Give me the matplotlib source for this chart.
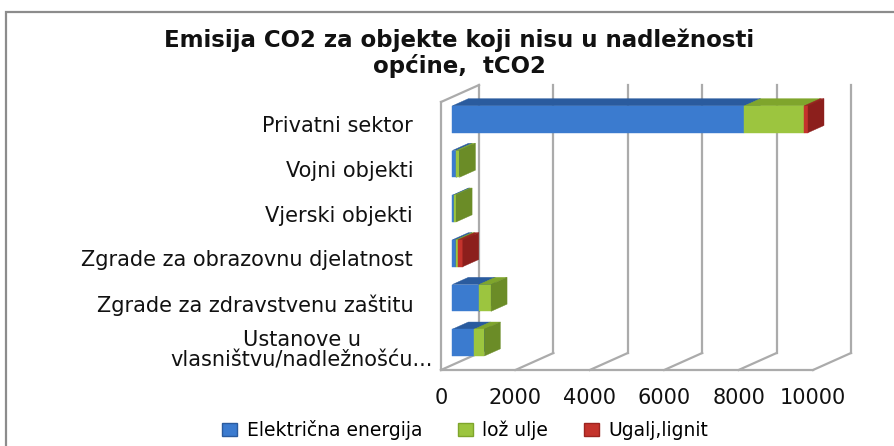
import matplotlib
matplotlib.use("Agg")
import matplotlib.pyplot as plt
from matplotlib.patches import Polygon, Rectangle, Patch
import matplotlib.transforms as mtransforms

# data (tCO2)
categories = ["Privatni sektor", "Vojni objekti", "Vjerski objekti",
              "Zgrade za obrazovnu djelatnost", "Zgrade za zdravstvenu zaštitu",
              "Ustanove u\nvlasništvu/nadležnošću..."]
elektricna = [7850, 100, 40, 90, 720, 590]
loz_ulje = [1610, 90, 60, 70, 320, 270]
ugalj = [100, 0, 0, 120, 0, 0]
series_names = ["Električna energija", "lož ulje", "Ugalj,lignit"]
x_ticks = [0, 2000, 4000, 6000, 8000, 10000]

# face colours: front, top, side
face_colors = [("#3b7bcf", "#2a5b9e", "#2d63a8"),
               ("#9cc53f", "#7fa52c", "#6b8c27"),
               ("#c4332c", "#9c2420", "#8c1f1c")]

W, H = 895, 446
fig = plt.figure(figsize=(W / 100, H / 100), dpi=100)
plt.rcParams['font.family'] = ['DejaVu Sans']

# outer chart frame
fig.patches.append(Rectangle((6 / W, -0.1), 1.1, 1 - 12 / H + 0.1, transform=fig.transFigure,
                             fill=False, edgecolor="#8c8c8c", linewidth=1.6))

ax_w, ax_h = 372, 268
ax = fig.add_axes([441 / W, 76 / H, ax_w / W, ax_h / H])
ax.set_xlim(0, 10000)
ax.set_ylim(5.5, -0.5)
ax.patch.set_visible(False)
for s in ax.spines.values():
    s.set_visible(False)

# depth of the 3D box (pixels -> data units)
ddx = 38 * 10000 / ax_w
ddy = -17 * 6 / ax_h

grid_kw = dict(color="#ababab", linewidth=1.6, clip_on=False, zorder=1)
for v in x_ticks:
    ax.plot([v + ddx, v + ddx], [-0.5 + ddy, 5.5 + ddy], **grid_kw)
    ax.plot([v, v + ddx], [5.5, 5.5 + ddy], **grid_kw)
ax.plot([0, 10000], [5.5, 5.5], **grid_kw)
ax.plot([0, 0], [-0.5, 5.5], **grid_kw)
ax.plot([0, ddx], [-0.5, -0.5 + ddy], **grid_kw)


def box(x0, x1, yc, h, t0, t1, cols):
    top, bot = yc - h / 2, yc + h / 2
    sx = lambda x, t: x + t * ddx
    sy = lambda y, t: y + t * ddy
    faces = [
        ([(sx(x0, t0), sy(top, t0)), (sx(x1, t0), sy(top, t0)),
          (sx(x1, t1), sy(top, t1)), (sx(x0, t1), sy(top, t1))], cols[1]),
        ([(sx(x0, t0), sy(top, t0)), (sx(x1, t0), sy(top, t0)),
          (sx(x1, t0), sy(bot, t0)), (sx(x0, t0), sy(bot, t0))], cols[0]),
        ([(sx(x1, t0), sy(top, t0)), (sx(x1, t1), sy(top, t1)),
          (sx(x1, t1), sy(bot, t1)), (sx(x1, t0), sy(bot, t0))], cols[2]),
    ]
    for pts, c in faces:
        ax.add_patch(Polygon(pts, closed=True, facecolor=c, edgecolor=c,
                             linewidth=0.3, clip_on=False, zorder=3))


series = [elektricna, loz_ulje, ugalj]
for i in range(len(categories)):
    left = 0
    for k, vals in enumerate(series):
        if vals[i] > 0:
            box(left, left + vals[i], i, 0.6, 0.3, 0.72, face_colors[k])
        left += vals[i]

ax.set_xticks(x_ticks)
ax.set_xticklabels([str(v) for v in x_ticks])
ax.tick_params(axis="x", length=0, pad=13, labelsize=15, colors="#111111")
ax.set_yticks(range(len(categories)))
ax.set_yticklabels(categories)
ax.tick_params(axis="y", length=0, pad=20, labelsize=15, colors="#111111")
last = ax.get_yticklabels()[-1]
last.set_multialignment("center")
last.set_linespacing(1.05)
last.set_transform(last.get_transform() + mtransforms.ScaledTranslation(0.2, 0, fig.dpi_scale_trans))

fig.text(459 / W, 1 - 53 / H, "Emisija CO2 za objekte koji nisu u nadležnosti\nopćine,  tCO2",
         ha="center", va="center", fontsize=16.5, fontweight="bold", linespacing=1.1,
         color="#111111")

handles = [Patch(facecolor=c[0], edgecolor=c[1]) for c in face_colors]
fig.legend(handles, series_names, loc="center", bbox_to_anchor=(465 / W, 1 - 430 / H),
           ncol=3, frameon=False, fontsize=13.5, handlelength=0.8, handleheight=0.7,
           handletextpad=0.5, columnspacing=1.9)

fig.savefig("out.png", dpi=100)
